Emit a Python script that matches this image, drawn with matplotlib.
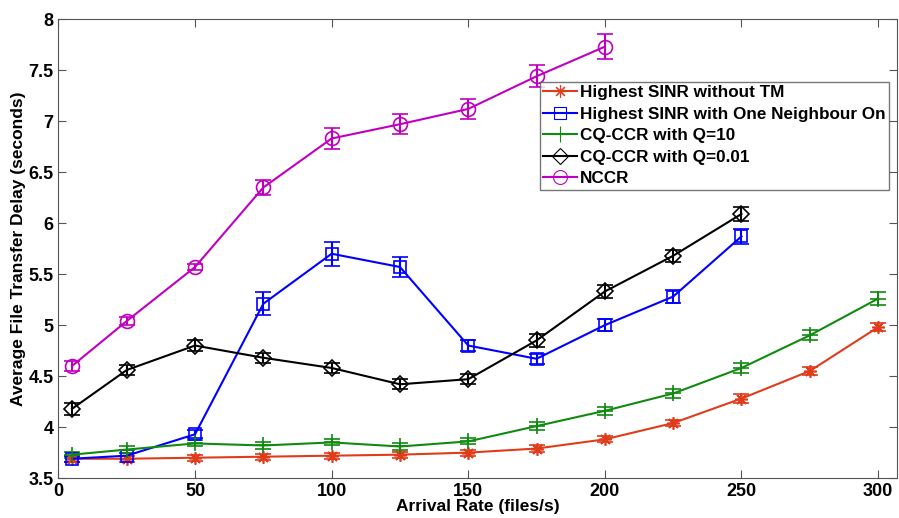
import matplotlib.pyplot as plt
from matplotlib.lines import Line2D

plt.rcParams['font.family'] = ['Liberation Sans', 'DejaVu Sans']
plt.rcParams['font.weight'] = 'bold'

# Data
x_long = [5, 25, 50, 75, 100, 125, 150, 175, 200, 225, 250, 275, 300]
x_mid = x_long[:11]
x_short = x_long[:9]

sinr_no_tm = [3.69, 3.69, 3.70, 3.71, 3.72, 3.73, 3.75, 3.79, 3.88, 4.04, 4.28, 4.55, 4.98]
sinr_no_tm_err = [0.03, 0.03, 0.03, 0.03, 0.03, 0.03, 0.03, 0.03, 0.03, 0.03, 0.04, 0.04, 0.04]

sinr_one_nb = [3.69, 3.72, 3.93, 5.21, 5.70, 5.57, 4.80, 4.67, 5.00, 5.28, 5.87]
sinr_one_nb_err = [0.03, 0.03, 0.04, 0.11, 0.12, 0.10, 0.05, 0.05, 0.06, 0.06, 0.07]

cq_q10 = [3.73, 3.78, 3.84, 3.82, 3.85, 3.81, 3.86, 4.01, 4.16, 4.33, 4.58, 4.90, 5.26]
cq_q10_err = [0.03, 0.03, 0.03, 0.03, 0.03, 0.03, 0.03, 0.04, 0.04, 0.04, 0.05, 0.05, 0.06]

cq_q001 = [4.18, 4.56, 4.80, 4.68, 4.58, 4.42, 4.47, 4.85, 5.33, 5.68, 6.09]
cq_q001_err = [0.06, 0.05, 0.05, 0.05, 0.05, 0.05, 0.05, 0.06, 0.06, 0.06, 0.07]

nccr = [4.60, 5.04, 5.57, 6.35, 6.83, 6.97, 7.12, 7.44, 7.73]
nccr_err = [0.05, 0.04, 0.03, 0.07, 0.10, 0.10, 0.10, 0.11, 0.12]

labels = ['Highest SINR without TM', 'Highest SINR with One Neighbour On',
          'CQ-CCR with Q=10', 'CQ-CCR with Q=0.01', 'NCCR']
colors = ['#e03c1c', '#0000ff', '#108a10', 'black', '#c000c0']
markers = [(8, 2, 0), 's', '+', 'D', 'o']
sizes = [9, 9, 11, 8, 10]

fig = plt.figure(figsize=(8.99, 5.18), dpi=100)
ax = fig.add_axes([0.065, 0.077, 0.933, 0.886])

series = [(x_long, sinr_no_tm, sinr_no_tm_err), (x_mid, sinr_one_nb, sinr_one_nb_err),
          (x_long, cq_q10, cq_q10_err), (x_mid, cq_q001, cq_q001_err),
          (x_short, nccr, nccr_err)]

handles = []
for (xs, ys, es), lab, c, m, ms in zip(series, labels, colors, markers, sizes):
    ax.errorbar(xs, ys, yerr=es, color=c, marker=m, markersize=ms, mfc='none',
                markeredgewidth=1.2, linewidth=1.5, capsize=6, elinewidth=1.5, capthick=1.5)
    handles.append(Line2D([], [], color=c, marker=m, markersize=ms, mfc='none',
                          markeredgewidth=0.8, linewidth=1.5, label=lab))

ax.set_xlim(0, 307)
ax.set_ylim(3.5, 8)
ax.set_xticks([0, 50, 100, 150, 200, 250, 300])
ax.set_yticks([3.5, 4, 4.5, 5, 5.5, 6, 6.5, 7, 7.5, 8])
ax.set_yticklabels(['3.5', '4', '4.5', '5', '5.5', '6', '6.5', '7', '7.5', '8'])
ax.tick_params(direction='in', top=True, right=True, labelsize=13, length=6, color='#555555')
for s in ax.spines.values():
    s.set_color('#555555')

ax.set_xlabel('Arrival Rate (files/s)', fontsize=12.5, fontweight='bold', labelpad=-1)
ax.set_ylabel('Average File Transfer Delay (seconds)', fontsize=12.5, fontweight='bold', labelpad=2)

leg = ax.legend(handles=handles, loc='upper right', bbox_to_anchor=(0.990, 0.863), fontsize=12.3,
                frameon=True, fancybox=False, edgecolor='#555555',
                handlelength=2.0, handletextpad=0.15, borderpad=0.2, labelspacing=0.38,
                borderaxespad=0)
leg.get_frame().set_linewidth(1)

fig.savefig('out.png', dpi=100)
